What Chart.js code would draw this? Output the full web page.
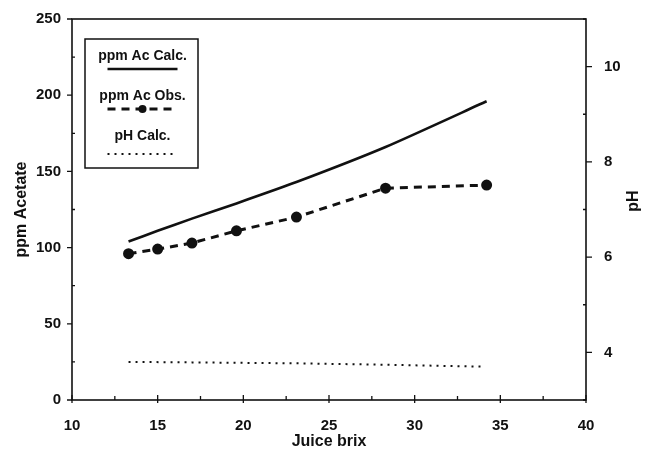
<!DOCTYPE html>
<html>
<head>
<meta charset="utf-8">
<script src="https://cdn.jsdelivr.net/npm/chart.js@4"></script>
<style>
  html, body { margin: 0; padding: 0; background: #ffffff; }
  #wrap { width: 651px; height: 460px; }
</style>
</head>
<body>
<div id="wrap"><canvas id="acetateChart" width="651" height="460"></canvas></div>
<script>
// data
const brix = [13.3, 15.0, 17.0, 19.6, 23.1, 28.3, 34.2];
const ppmCalc = [104, 111, 119, 129, 143, 166, 196];
const ppmObs = [96, 99, 103, 111, 120, 139, 141];
const phBrix = [13.3, 17.0, 23.1, 28.3, 34.0];
const phCalc = [3.80, 3.79, 3.77, 3.74, 3.70];

const xTicks = [10, 15, 20, 25, 30, 35, 40];
const yTicks = [0, 50, 100, 150, 200, 250];
const phTicks = [4, 6, 8, 10];

const FONT = 'Liberation Sans, Arial, Helvetica, sans-serif';
const INK = '#111111';

function pts(xs, ys) {
    return xs.map((x, i) => ({ x: x, y: ys[i] }));
}

// frame box + inward/outward tick marks
const framePlugin = {
    id: 'frame',
    afterDraw(chart) {
        const ctx = chart.ctx;
        const a = chart.chartArea;
        const sx = chart.scales.x, sy = chart.scales.y, sp = chart.scales.y1;
        ctx.save();
        ctx.strokeStyle = INK;
        ctx.lineWidth = 1.6;
        ctx.strokeRect(a.left, a.top, a.right - a.left, a.bottom - a.top);
        ctx.lineWidth = 1.3;
        ctx.beginPath();
        // x axis: major ticks every 5, minor every 2.5, pointing up
        for (let v = 10; v <= 40; v += 2.5) {
            const px = sx.getPixelForValue(v);
            const major = v % 5 === 0;
            ctx.moveTo(px, a.bottom + (major ? 3 : 0));
            ctx.lineTo(px, a.bottom - (major ? 5 : 4));
        }
        // left axis: major outward, minor inward
        for (let v = 0; v <= 250; v += 25) {
            const py = sy.getPixelForValue(v);
            if (v % 50 === 0) { ctx.moveTo(a.left - 5, py); ctx.lineTo(a.left, py); }
            else { ctx.moveTo(a.left, py); ctx.lineTo(a.left + 3, py); }
        }
        // right axis
        for (let v = 3; v <= 11; v += 1) {
            const py = sp.getPixelForValue(v);
            if (v % 2 === 0) { ctx.moveTo(a.right, py); ctx.lineTo(a.right + 6, py); }
            else { ctx.moveTo(a.right, py); ctx.lineTo(a.right - 3, py); }
        }
        ctx.stroke();

        // right axis title, reading bottom to top
        ctx.fillStyle = INK;
        ctx.font = 'bold 16px ' + FONT;
        ctx.textAlign = 'center';
        ctx.textBaseline = 'middle';
        ctx.translate(634, 201);
        ctx.rotate(-Math.PI / 2);
        ctx.fillText(sp.options.title.text, 0, 0);
        ctx.restore();
    }
};

// boxed legend: label above its line sample
const legendPlugin = {
    id: 'boxLegend',
    afterDraw(chart) {
        const ctx = chart.ctx;
        const a = chart.chartArea;
        const bx = a.left + 13, by = a.top + 20, bw = 113, bh = 129;
        const cx = bx + bw / 2 + 1;
        ctx.save();
        ctx.fillStyle = '#ffffff';
        ctx.fillRect(bx, by, bw, bh);
        ctx.strokeStyle = INK;
        ctx.lineWidth = 1.5;
        ctx.strokeRect(bx, by, bw, bh);
        chart.data.datasets.forEach((ds, i) => {
            const ty = by + 17 + i * 40;
            const ly = ty + (i === 2 ? 18 : 13);
            ctx.fillStyle = INK;
            ctx.font = 'bold 14px ' + FONT;
            ctx.textAlign = 'center';
            ctx.textBaseline = 'middle';
            ctx.fillText(ds.label, cx, ty);
            ctx.strokeStyle = ds.borderColor;
            ctx.lineWidth = ds.borderWidth;
            ctx.setLineDash(ds.borderDash || []);
            ctx.beginPath();
            ctx.moveTo(cx - 35, ly);
            ctx.lineTo(cx + 35, ly);
            ctx.stroke();
            ctx.setLineDash([]);
            if (ds.pointRadius > 0) {
                ctx.fillStyle = ds.pointBackgroundColor;
                ctx.beginPath();
                ctx.arc(cx, ly, ds.pointRadius, 0, Math.PI * 2);
                ctx.fill();
            }
        });
        ctx.restore();
    }
};

const tickFont = { family: FONT, size: 15, weight: 'bold' };

new Chart(document.getElementById('acetateChart'), {
    type: 'line',
    data: {
        datasets: [
            {
                label: 'ppm Ac Calc.',
                data: pts(brix, ppmCalc),
                yAxisID: 'y',
                borderColor: INK,
                borderWidth: 2.6,
                pointRadius: 0,
                tension: 0.2
            },
            {
                label: 'ppm Ac Obs.',
                data: pts(brix, ppmObs),
                yAxisID: 'y',
                borderColor: INK,
                borderWidth: 3,
                borderDash: [8, 6],
                pointRadius: 4,
                pointBackgroundColor: INK,
                pointBorderColor: INK,
                tension: 0
            },
            {
                label: 'pH Calc.',
                data: pts(phBrix, phCalc),
                yAxisID: 'y1',
                borderColor: INK,
                borderWidth: 2,
                borderDash: [2, 5],
                pointRadius: 0,
                tension: 0
            }
        ]
    },
    options: {
        responsive: false,
        animation: false,
        devicePixelRatio: 1,
        layout: { padding: { top: 7, left: 0, right: 0, bottom: 0 } },
        plugins: {
            legend: { display: false },
            tooltip: { enabled: false }
        },
        scales: {
            x: {
                type: 'linear',
                min: 10,
                max: 40,
                afterBuildTicks: s => { s.ticks = xTicks.map(v => ({ value: v })); },
                afterFit: s => { s.height = 60; },
                grid: { display: false },
                border: { display: false },
                ticks: { color: INK, font: tickFont, padding: 9, maxRotation: 0 },
                title: {
                    display: true,
                    text: 'Juice brix',
                    color: INK,
                    font: { family: FONT, size: 16, weight: 'bold' },
                    padding: { top: 0, bottom: 9 }
                }
            },
            y: {
                position: 'left',
                min: 0,
                max: 250,
                afterBuildTicks: s => { s.ticks = yTicks.map(v => ({ value: v })); },
                afterFit: s => { s.width = 72; },
                grid: { display: false },
                border: { display: false },
                ticks: { color: INK, font: tickFont, padding: 3 },
                title: {
                    display: true,
                    text: 'ppm Acetate',
                    color: INK,
                    font: { family: FONT, size: 16, weight: 'bold' },
                    padding: { top: 12, bottom: 0 }
                }
            },
            y1: {
                position: 'right',
                min: 3,
                max: 11,
                afterBuildTicks: s => { s.ticks = phTicks.map(v => ({ value: v })); },
                afterFit: s => { s.width = 65; },
                grid: { display: false },
                border: { display: false },
                ticks: { color: INK, font: tickFont, padding: 10 },
                title: { display: false, text: 'pH' }
            }
        }
    },
    plugins: [framePlugin, legendPlugin]
});
</script>
</body>
</html>
